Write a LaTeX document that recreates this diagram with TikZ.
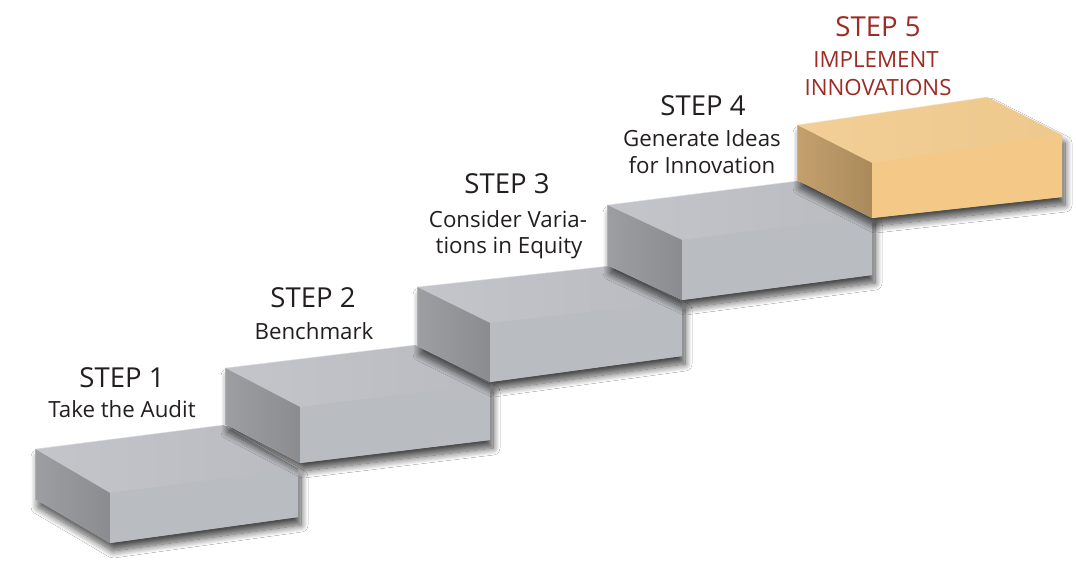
\documentclass[tikz,border=0pt]{standalone}
\usepackage{fontspec}
\setmainfont{Open Sans}
\usetikzlibrary{calc,shadows.blur}
\definecolor{gtop}{HTML}{C3C5CA}
\definecolor{gtopB}{HTML}{B9BBC0}
\definecolor{gfront}{HTML}{B9BCC1}
\definecolor{gleftA}{HTML}{9C9EA2}
\definecolor{gleftB}{HTML}{8A8C90}
\definecolor{otop}{HTML}{F2CF97}
\definecolor{otopB}{HTML}{EEC88C}
\definecolor{ofront}{HTML}{F4C886}
\definecolor{oleftA}{HTML}{C4A06E}
\definecolor{oleftB}{HTML}{AA8A5A}
\definecolor{txt}{HTML}{231F20}
\definecolor{red5}{HTML}{9E2A24}
\tikzset{
  steptitle/.style={anchor=base, text=txt, font=\fontsize{27.5}{30}\selectfont, inner sep=0pt},
  stepsub/.style={anchor=base, text=txt, font=\fontsize{22.3}{26}\selectfont, inner sep=0pt},
  blockshadow/.style={blur shadow={shadow xshift=3pt, shadow yshift=-8pt, shadow blur radius=7pt, shadow blur steps=14, shadow opacity=70}}
}
\newcommand\stepblock[9]{%
  \coordinate (#9FL) at (#1,#2);
  \coordinate (#9FR) at (#3,#4);
  \coordinate (#9BL) at ($(#9FL)+(#7,#8)$);
  \coordinate (#9BR) at ($(#9FR)+(#7,#8)$);
  \coordinate (#9FLb) at ($(#9FL)+(0,#5)$);
  \coordinate (#9FRb) at ($(#9FR)+(0,#6)$);
  \coordinate (#9BLb) at ($(#9BL)+(0,#5)$);
}
\newcommand\paintblock[2]{% #1 prefix, #2 colour set
  \fill[#2front, blockshadow] (#1BL) -- (#1BR) -- (#1FR) -- (#1FRb) -- (#1FLb) -- (#1BLb) -- cycle;
  \shade[left color=#2top, right color=#2topB] (#1BL) -- (#1BR) -- (#1FR) -- (#1FL) -- cycle;
  \shade[left color=#2leftA, right color=#2leftB] (#1BL) -- (#1FL) -- (#1FLb) -- (#1BLb) -- cycle;
  \fill[#2front] (#1FL) -- (#1FR) -- (#1FRb) -- (#1FLb) -- cycle;
  \draw[white, opacity=0.5, line width=0.6pt] (#1BLb) -- (#1BL) -- (#1BR);
}
\begin{document}
\begin{tikzpicture}[x=1pt, y=-1pt]
\useasboundingbox (0,0) rectangle (1076,565);
\fill[white] (0,0) rectangle (1076,565);
\stepblock{110}{493}{298}{469}{50}{48}{-75}{-44}{a}
\stepblock{300}{407}{490}{384}{56}{56}{-75}{-39}{b}
\stepblock{490}{323}{682}{302}{59}{54}{-73}{-36}{c}
\stepblock{682}{240}{872}{216}{60}{59}{-75}{-35}{d}
\stepblock{872}{163}{1062}{135}{55}{62}{-75}{-38}{e}
\paintblock{a}{g}
\paintblock{b}{g}
\paintblock{c}{g}
\paintblock{d}{g}
\paintblock{e}{o}
% labels
\node[steptitle] (t1) at (122,387) {STEP 1};
\node[stepsub] (s1) at (122,417) {Take the Audit};
\node[steptitle] (t2) at (313,307) {STEP 2};
\node[stepsub] (s2) at (314,339) {Benchmark};
\node[steptitle] (t3) at (507,193) {STEP 3};
\node[stepsub] (s3a) at (508,227) {Consider Varia-};
\node[stepsub] (s3b) at (509,253) {tions in Equity};
\node[steptitle] (t4) at (703,115) {STEP 4};
\node[stepsub] (s4a) at (702,146) {Generate Ideas};
\node[stepsub] (s4b) at (702,173) {for Innovation};
\node[steptitle, text=red5] (t5) at (878,36) {STEP 5};
\node[stepsub, text=red5] (s5a) at (876,67) {IMPLEMENT};
\node[stepsub, text=red5] (s5b) at (878,95) {INNOVATIONS};
\end{tikzpicture}
\end{document}
